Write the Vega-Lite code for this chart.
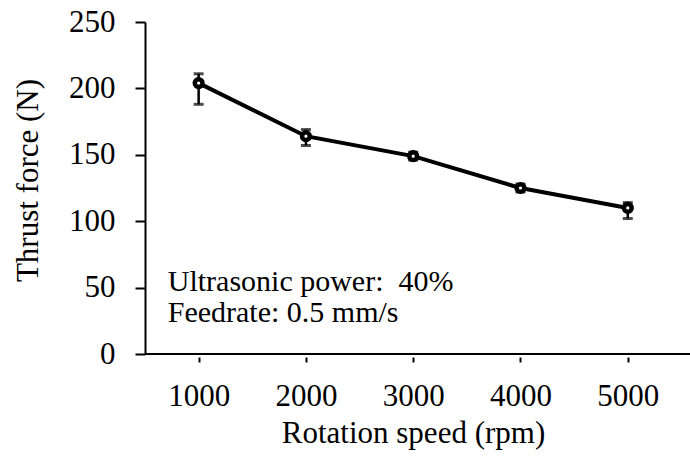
{
  "$schema": "https://vega.github.io/schema/vega-lite/v6.json",
  "width": 545,
  "height": 332,
  "autosize": "none",
  "padding": {"left": 145, "top": 22, "right": 0, "bottom": 122},
  "background": "white",
  "config": {
    "view": {"stroke": null},
    "font": "Liberation Serif",
    "axis": {
      "labelFont": "Liberation Serif",
      "titleFont": "Liberation Serif",
      "labelFontSize": 31,
      "titleFontSize": 31,
      "titleFontWeight": "normal",
      "labelColor": "black",
      "titleColor": "black",
      "domainColor": "black",
      "tickColor": "black",
      "grid": false
    }
  },
  "datasets": {
    "thrust": [
      {"speed": 1000, "force": 204, "low": 188, "high": 211},
      {"speed": 2000, "force": 164, "low": 157, "high": 169},
      {"speed": 3000, "force": 149, "low": 146, "high": 152},
      {"speed": 4000, "force": 125, "low": 122, "high": 128},
      {"speed": 5000, "force": 110, "low": 102, "high": 114}
    ],
    "notes": [
      {"label": "Ultrasonic power:\u00a0 40%", "line": 1},
      {"label": "Feedrate: 0.5 mm/s", "line": 2}
    ]
  },
  "data": {"name": "thrust"},
  "layer": [
    {
      "mark": {"type": "rule", "color": "black", "strokeWidth": 2},
      "encoding": {
        "y": {"datum": 0, "type": "quantitative", "scale": {"domain": [0, 250], "nice": false}}
      }
    },
    {
      "mark": {"type": "rule", "color": "black", "strokeWidth": 2.5},
      "encoding": {
        "x": {
          "field": "speed", "type": "quantitative",
          "scale": {"domain": [500, 5580], "nice": false, "zero": false},
          "axis": {
            "title": "Rotation speed (rpm)",
            "values": [1000, 2000, 3000, 4000, 5000],
            "format": "d",
            "offset": 3,
            "domain": false,
            "tickSize": 5,
            "tickWidth": 2,
            "labelPadding": 43,
            "labelBaseline": "alphabetic",
            "titleBaseline": "alphabetic",
            "titleX": 268,
            "titleY": 85
          }
        },
        "y": {
          "field": "low", "type": "quantitative",
          "scale": {"domain": [0, 250], "nice": false},
          "axis": {
            "title": "Thrust force (N)",
            "values": [0, 50, 100, 150, 200, 250],
            "domainWidth": 2,
            "tickSize": 10,
            "tickWidth": 2,
            "labelPadding": 20,
            "titleAngle": -90,
            "titleAlign": "center",
            "titleBaseline": "alphabetic",
            "titleX": -108,
            "titleY": 158
          }
        },
        "y2": {"field": "high"}
      }
    },
    {
      "mark": {"type": "tick", "orient": "horizontal", "size": 10, "thickness": 3, "color": "black"},
      "encoding": {
        "x": {"field": "speed", "type": "quantitative"},
        "y": {"field": "low", "type": "quantitative"}
      }
    },
    {
      "mark": {"type": "tick", "orient": "horizontal", "size": 10, "thickness": 3, "color": "black"},
      "encoding": {
        "x": {"field": "speed", "type": "quantitative"},
        "y": {"field": "high", "type": "quantitative"}
      }
    },
    {
      "mark": {"type": "line", "color": "black", "strokeWidth": 4},
      "encoding": {
        "x": {"field": "speed", "type": "quantitative"},
        "y": {"field": "force", "type": "quantitative"}
      }
    },
    {
      "mark": {"type": "point", "filled": false, "fill": "white", "stroke": "black", "strokeWidth": 4.5, "size": 60, "opacity": 1},
      "encoding": {
        "x": {"field": "speed", "type": "quantitative"},
        "y": {"field": "force", "type": "quantitative"}
      }
    },
    {
      "data": {"name": "notes"},
      "transform": [{"filter": "datum.line == 1"}],
      "mark": {"type": "text", "align": "left", "baseline": "alphabetic", "fontSize": 30, "font": "Liberation Serif", "color": "black"},
      "encoding": {
        "text": {"field": "label"},
        "x": {"datum": 712, "type": "quantitative"},
        "y": {"datum": 47.4, "type": "quantitative"}
      }
    },
    {
      "data": {"name": "notes"},
      "transform": [{"filter": "datum.line == 2"}],
      "mark": {"type": "text", "align": "left", "baseline": "alphabetic", "fontSize": 30, "font": "Liberation Serif", "color": "black"},
      "encoding": {
        "text": {"field": "label"},
        "x": {"datum": 712, "type": "quantitative"},
        "y": {"datum": 24.1, "type": "quantitative"}
      }
    }
  ]
}
